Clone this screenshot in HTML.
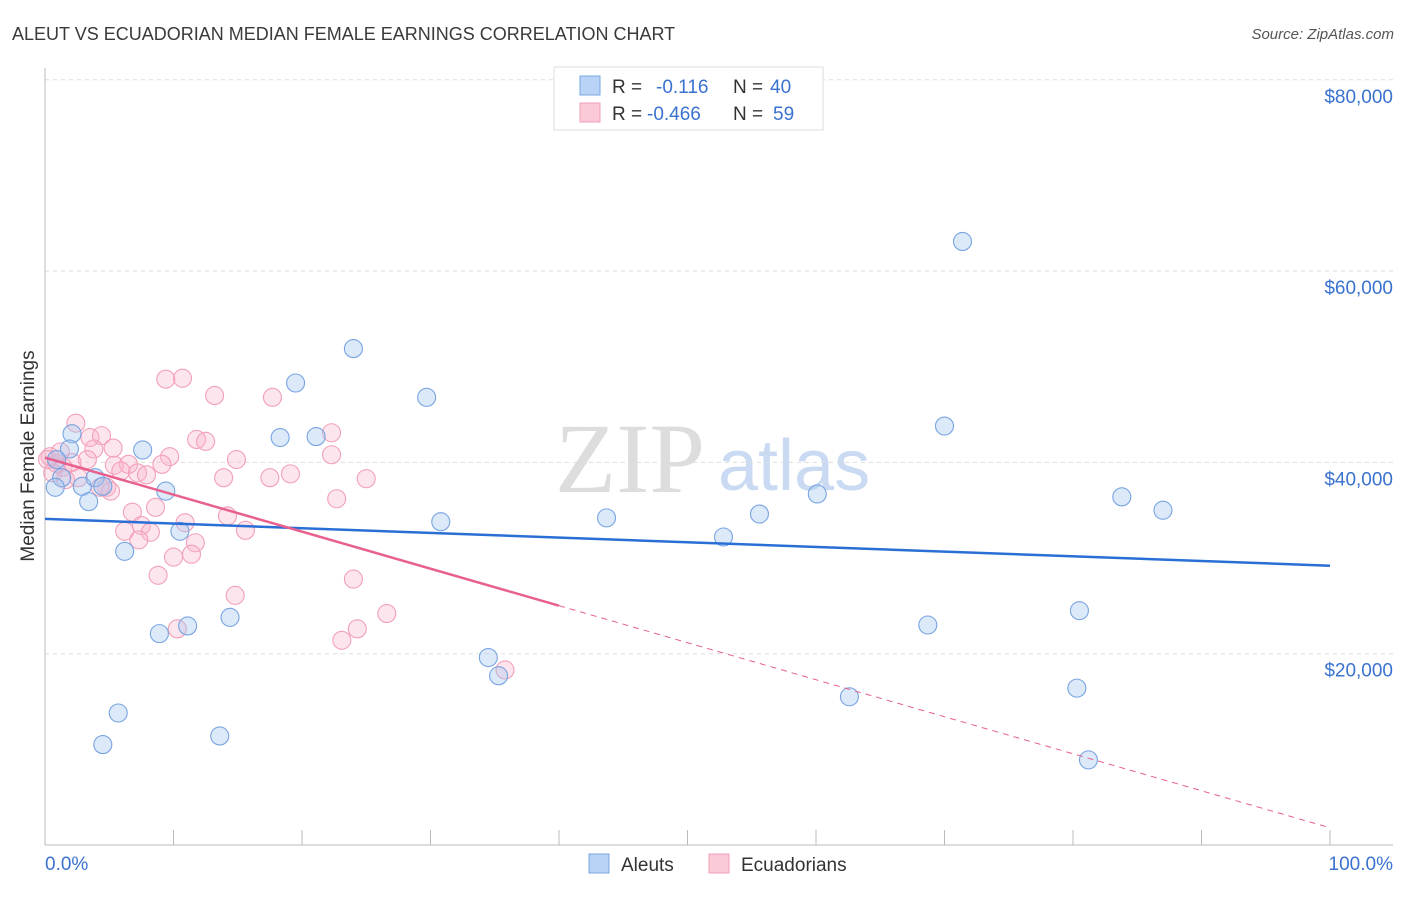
<!DOCTYPE html>
<html><head><meta charset="utf-8"><style>
body{margin:0;background:#fff;font-family:"Liberation Sans",sans-serif}
</style></head><body>
<svg id="c" width="1406" height="892" xmlns="http://www.w3.org/2000/svg">
<text x="12" y="40" font-size="18" fill="#3a3a3a">ALEUT VS ECUADORIAN MEDIAN FEMALE EARNINGS CORRELATION CHART</text>
<text x="1394" y="39" font-size="15" fill="#555" text-anchor="end" font-style="italic">Source: ZipAtlas.com</text>
<text x="0" y="0" transform="translate(34,456) rotate(-90)" font-size="19" fill="#333" text-anchor="middle">Median Female Earnings</text>
<text x="555" y="492" font-size="100" fill="#ddd" font-family="Liberation Serif">ZIP</text>
<text x="718" y="490" font-size="72" fill="#c9daf2">atlas</text>
<g id="grid"></g><g id="axes"></g><g id="pts"></g><g id="lines"></g>
<g>
<rect x="554" y="67" width="269" height="63" fill="#fff" stroke="#ddd"/>
<rect x="580" y="76" width="20" height="19" fill="#b8d3f5" stroke="#7aa5e3"/>
<rect x="580" y="103" width="20" height="19" fill="#fcc9d7" stroke="#f0a0b8"/>
<text x="612" y="93" font-size="19" fill="#333">R = <tspan x="656" fill="#3a72d0">-0.116</tspan><tspan x="733" fill="#333">N = </tspan><tspan x="770" fill="#3a72d0">40</tspan></text>
<text x="612" y="120" font-size="19" fill="#333">R = <tspan x="647" fill="#3a72d0">-0.466</tspan><tspan x="733" fill="#333">N = </tspan><tspan x="773" fill="#3a72d0">59</tspan></text>
</g>
<g>
<rect x="589" y="854" width="20" height="19" fill="#b8d3f5" stroke="#7aa5e3"/>
<text x="621" y="871" font-size="19" fill="#333">Aleuts</text>
<rect x="709" y="854" width="20" height="19" fill="#fcc9d7" stroke="#f0a0b8"/>
<text x="741" y="871" font-size="19" fill="#333">Ecuadorians</text>
</g>
</svg>
<script>
const yTicks=[20,40,60,80];
const yTickLabels=["$20,000","$40,000","$60,000","$80,000"];
const xTicks=[0,10,20,30,40,50,60,70,80,90,100];
const aleutX=[71.4,24.0,19.5,29.7,70.0,18.3,21.1,7.6,2.1,1.9,0.9,1.3,0.8,2.9,3.9,4.5,3.4,9.4,6.2,10.5,30.8,43.7,52.8,55.6,60.1,83.8,87.0,8.9,11.1,14.4,68.7,80.5,34.5,35.3,62.6,80.3,5.7,4.5,13.6,81.2];
const aleutY=[63.1,51.9,48.3,46.8,43.8,42.6,42.7,41.3,43.0,41.4,40.3,38.4,37.4,37.5,38.4,37.5,35.9,37.0,30.7,32.8,33.8,34.2,32.2,34.6,36.7,36.4,35.0,22.1,22.9,23.8,23.0,24.5,19.6,17.7,15.5,16.4,13.8,10.5,11.4,8.9];
const ecuX=[9.4,10.7,13.2,17.7,22.3,22.3,2.4,3.5,4.4,3.8,5.3,11.8,12.5,14.9,13.9,17.5,19.1,25.0,22.7,9.7,9.1,5.4,6.5,5.9,7.2,7.9,3.3,0.4,0.9,1.4,0.6,2.6,4.8,5.1,4.3,6.8,8.6,6.2,7.5,8.2,7.3,10.9,11.7,11.4,10.0,14.2,15.6,8.8,14.8,24.0,10.3,24.3,23.1,26.6,35.8,0.2,1.2,2.1,1.6];
const ecuY=[48.7,48.8,47.0,46.8,43.1,40.8,44.1,42.6,42.8,41.4,41.5,42.4,42.2,40.3,38.4,38.4,38.8,38.3,36.2,40.6,39.8,39.7,39.8,39.1,38.9,38.7,40.3,40.6,39.9,39.5,38.9,38.4,37.4,37.0,37.4,34.8,35.3,32.8,33.4,32.7,31.9,33.7,31.6,30.4,30.1,34.4,32.9,28.2,26.1,27.8,22.6,22.6,21.4,24.2,18.3,40.3,41.1,40.0,38.2];
const aleutTrend=[34.1,29.2];
const ecuTrend=[40.5,1.8];
const ecuSolidEnd=40;
const NS="http://www.w3.org/2000/svg";
const X=v=>45+v*12.85, Y=v=>845-v*9.565;
function mk(p,t,a){const e=document.createElementNS(NS,t);for(const k in a)e.setAttribute(k,a[k]);document.getElementById(p).appendChild(e);return e;}
yTicks.forEach((t,i)=>{
 const g=mk('grid','line',{x1:45,x2:1393,y1:Y(t),y2:Y(t),stroke:'#ddd','stroke-dasharray':'4,4'});
 
 
 const l=mk('grid','text',{x:1393,y:Y(t)+23,'font-size':19,fill:'#3a72d0','text-anchor':'end'});
 l.textContent=yTickLabels[i];
 
 
});
let a=mk('axes','line',{x1:45,x2:45,y1:68,y2:845,stroke:'#bbb'});


a=mk('axes','line',{x1:45,x2:1393,y1:845,y2:845,stroke:'#bbb'});


xTicks.forEach(t=>{const k=mk('axes','line',{x1:X(t),x2:X(t),y1:830,y2:845,stroke:'#bbb'});
 
 });
let tl=mk('axes','text',{x:45,y:870,'font-size':19,fill:'#3a72d0'});tl.textContent='0.0%';


tl=mk('axes','text',{x:1393,y:870,'font-size':19,fill:'#3a72d0','text-anchor':'end'});tl.textContent='100.0%';


ecuX.forEach((x,i)=>{const c=mk('pts','circle',{cx:X(x),cy:Y(ecuY[i]),r:9,fill:'rgba(248,180,202,0.35)',stroke:'#f2a0b8','stroke-width':1.1});
 
 });
aleutX.forEach((x,i)=>{const c=mk('pts','circle',{cx:X(x),cy:Y(aleutY[i]),r:9,fill:'rgba(165,199,240,0.4)',stroke:'#78a4e2','stroke-width':1.1});
 
 });
let L=mk('lines','line',{x1:X(0),y1:Y(aleutTrend[0]),x2:X(100),y2:Y(aleutTrend[1]),stroke:'#2a6fd6','stroke-width':2.5});


const ey=x=>ecuTrend[0]+(ecuTrend[1]-ecuTrend[0])*x/100;
L=mk('lines','line',{x1:X(0),y1:Y(ey(0)),x2:X(ecuSolidEnd),y2:Y(ey(ecuSolidEnd)),stroke:'#e8608e','stroke-width':2.5});


L=mk('lines','line',{x1:X(ecuSolidEnd),y1:Y(ey(ecuSolidEnd)),x2:X(100),y2:Y(ey(100)),stroke:'#e8608e','stroke-width':1,'stroke-dasharray':'6,5'});


</script>
</body></html>
